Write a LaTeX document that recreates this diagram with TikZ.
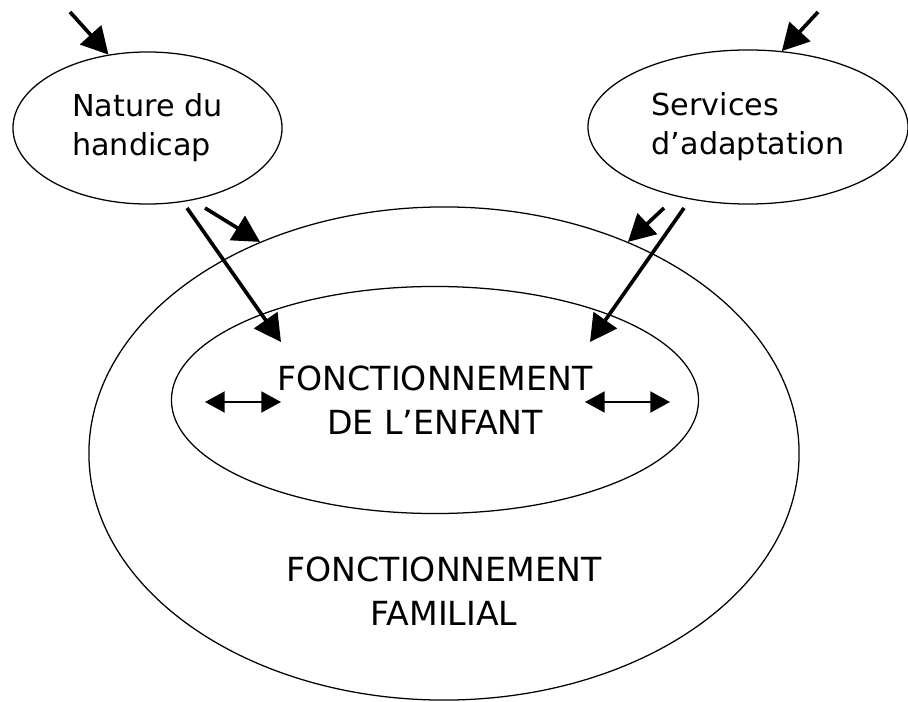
\documentclass[tikz,border=0pt]{standalone}
\usepackage{fontspec}
\setmainfont{DejaVu Sans}
\usetikzlibrary{positioning,shapes.geometric,arrows.meta}

\begin{document}
\begin{tikzpicture}[x=0.025cm,y=-0.025cm,
  bulle/.style={draw, ellipse, line width=0.9pt, inner sep=0pt, align=left, font=\fontsize{21.5}{27.7}\selectfont},
  cadre/.style={draw, ellipse, line width=0.9pt, inner sep=0pt, align=center, font=\fontsize{23.6}{31.3}\selectfont},
  fleche/.style={line width=2.6pt, -{Triangle[length=19pt,width=20pt]}},
  echange/.style={line width=1.2pt, {Triangle[length=14pt,width=15pt]}-{Triangle[length=14pt,width=15pt]}}]
  \useasboundingbox (0,0) rectangle (908,702);
  \node[cadre, minimum width=17.75cm, minimum height=12.325cm] (fam) at (444,453.5) {};
  \node[align=center, inner sep=0pt, font=\fontsize{23.6}{31.3}\selectfont] (famtxt) at (444,591) {FONCTIONNEMENT\\FAMILIAL};
  \node[cadre, minimum width=13.175cm, minimum height=5.675cm] (kid) at (435,400) {FONCTIONNEMENT\\DE L’ENFANT};
  \node[bulle, minimum width=6.725cm, minimum height=3.8cm] (nat) at (147.5,128) {Nature du\\handicap};
  \node[bulle, minimum width=8cm, minimum height=3.85cm] (sad) at (748,127) {Services\\d’adaptation};
  % free ends
  \coordinate (natin) at (70,12);
  \coordinate (sadin) at (818,12);
  \coordinate (nat1) at (205,208);
  \coordinate (nat2) at (187,208);
  \coordinate (sad1) at (664,208);
  \coordinate (sad2) at (684,208);
  \coordinate (kidl) at (281,342);
  \coordinate (kidr) at (590,342);
  \coordinate (gl1) at (205,402);
  \coordinate (gl2) at (281,402);
  \coordinate (dr1) at (585,402);
  \coordinate (dr2) at (670,402);
  \draw[fleche] (natin) -- (nat.118);
  \draw[fleche] (sadin) -- (sad.66);
  \draw[fleche] (nat1) -- (fam.131);
  \draw[fleche] (nat2) -- (kidl);
  \draw[fleche] (sad1) -- (fam.49);
  \draw[fleche] (sad2) -- (kidr);
  \draw[echange] (gl1) -- (gl2);
  \draw[echange] (dr1) -- (dr2);
\end{tikzpicture}
\end{document}
